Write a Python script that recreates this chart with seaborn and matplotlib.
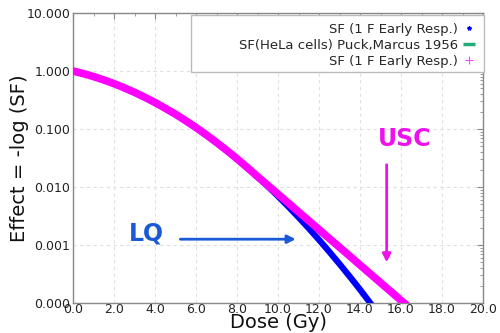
import numpy as np
import pandas as pd
import matplotlib
matplotlib.use("Agg")
import matplotlib.pyplot as plt
import seaborn as sns
from matplotlib.lines import Line2D
from matplotlib.patches import Rectangle
from matplotlib.ticker import FormatStrFormatter, MultipleLocator, LogLocator, NullFormatter

# ---- data ----
dose = [0.0, 0.5, 1.0, 1.5, 2.0, 2.5, 3.0, 3.5, 4.0, 4.5, 5.0, 5.5, 6.0, 6.5, 7.0, 7.5,
        8.0, 8.5, 9.0, 9.5, 10.0, 10.5, 11.0, 11.5, 12.0, 12.5, 13.0, 13.5, 14.0, 14.5,
        15.0, 15.5, 16.0, 16.5]
sf_lq = [1.0, 0.902, 0.802, 0.702, 0.605, 0.513, 0.429, 0.353, 0.286, 0.228, 0.180,
         0.139, 0.106, 0.0795, 0.0587, 0.0428, 0.0307, 0.0216, 0.0150, 0.0103, 0.00695,
         0.00461, 0.00301, 0.00194, 0.00123, 0.000767, 0.000472, 0.000286, 0.000171,
         0.000100, 0.0000579, 0.0000330, 0.0000185, 0.0000102]
sf_usc = [1.0, 0.902, 0.802, 0.702, 0.605, 0.513, 0.429, 0.353, 0.286, 0.228, 0.180,
          0.139, 0.106, 0.0795, 0.0587, 0.0428, 0.0307, 0.0217, 0.0152, 0.01072, 0.00754,
          0.00531, 0.00373, 0.00263, 0.00185, 0.00130, 0.000916, 0.000645, 0.000453,
          0.000319, 0.000224, 0.000158, 0.000111, 0.0000784]
legend_labels = ["SF (1 F Early Resp.)", "SF(HeLa cells) Puck,Marcus 1956", "SF (1 F Early Resp.)"]

df = pd.DataFrame({"dose": dose, "lq": sf_lq, "usc": sf_usc})

sns.set_style("white")
plt.rcParams["font.family"] = ["DejaVu Sans"]

fig = plt.figure(figsize=(5.0, 3.33), dpi=100)
ax = fig.add_axes([0.146, 0.090, 0.820, 0.871])

sns.lineplot(data=df, x="dose", y="lq", ax=ax, color="#0000ff", lw=4.5, zorder=3)
sns.lineplot(data=df, x="dose", y="usc", ax=ax, color="#ff00ff", lw=5.5, zorder=4)

ax.set_yscale("log")
ax.set_xlim(0, 20)
ax.set_ylim(1e-4, 10)

ax.xaxis.set_major_locator(MultipleLocator(2))
ax.xaxis.set_minor_locator(MultipleLocator(1))
ax.xaxis.set_major_formatter(FormatStrFormatter("%.1f"))
ax.yaxis.set_major_locator(LogLocator(base=10, numticks=10))
ax.yaxis.set_minor_locator(LogLocator(base=10, subs=np.arange(2, 10), numticks=20))
ax.yaxis.set_major_formatter(FormatStrFormatter("%.3f"))
ax.yaxis.set_minor_formatter(NullFormatter())

ax.tick_params(which="both", direction="in", top=True, right=True, colors="#888888",
               labelcolor="#222222", labelsize=9)
ax.tick_params(which="major", length=4)
ax.tick_params(which="minor", length=2)
ax.tick_params(axis="x", pad=0)
ax.tick_params(axis="y", pad=2)

for s in ax.spines.values():
    s.set_color("#888888")
    s.set_linewidth(1.0)

ax.grid(True, which="major", linestyle=(0, (3, 3)), color="#e0e0e0", lw=0.8)
ax.set_axisbelow(True)

ax.set_xlabel("Dose (Gy)", fontsize=14, labelpad=-2.5, color="#111111")
ax.set_ylabel("Effect = -log (SF)", fontsize=14, labelpad=-2, color="#111111")

# annotations
ax.text(3.6, 0.0016, "LQ", color="#1a5ad6", fontsize=17, fontweight="bold",
        ha="center", va="center", zorder=6)
ax.annotate("", xy=(11.0, 0.00126), xytext=(5.1, 0.00126),
            arrowprops=dict(arrowstyle="-|>", color="#1a5ad6", lw=2, mutation_scale=12),
            zorder=6)
ax.text(16.2, 0.067, "USC", color="#ee11ee", fontsize=17, fontweight="bold",
        ha="center", va="center", zorder=6)
ax.annotate("", xy=(15.3, 0.00045), xytext=(15.3, 0.027),
            arrowprops=dict(arrowstyle="-|>", color="#ee11ee", lw=2, mutation_scale=12),
            zorder=6)

# legend frame (fixed-size box as in the reference)
frame = Rectangle((0.288, 0.797), 0.714, 0.196, transform=ax.transAxes,
                  facecolor="white", edgecolor="#bbbbbb", lw=1.0, zorder=9, clip_on=False)
ax.add_patch(frame)

handles = [
    Line2D([], [], color="#0000ff", marker="*", linestyle="none", markersize=3),
    Line2D([], [], color="#1fae7a", marker="_", linestyle="none", markersize=9, markeredgewidth=2.5),
    Line2D([], [], color="#ff44ff", marker="+", linestyle="none", markersize=6, markeredgewidth=0.8),
]
leg = ax.legend(handles, legend_labels, loc="upper right", markerfirst=False,
                fontsize=9.5, frameon=False, borderaxespad=0,
                handlelength=1.0, handletextpad=0.35, labelspacing=0.22,
                borderpad=0.6, bbox_to_anchor=(1.002, 0.993))
leg.set_zorder(10)

fig.savefig("out.png", dpi=100)
